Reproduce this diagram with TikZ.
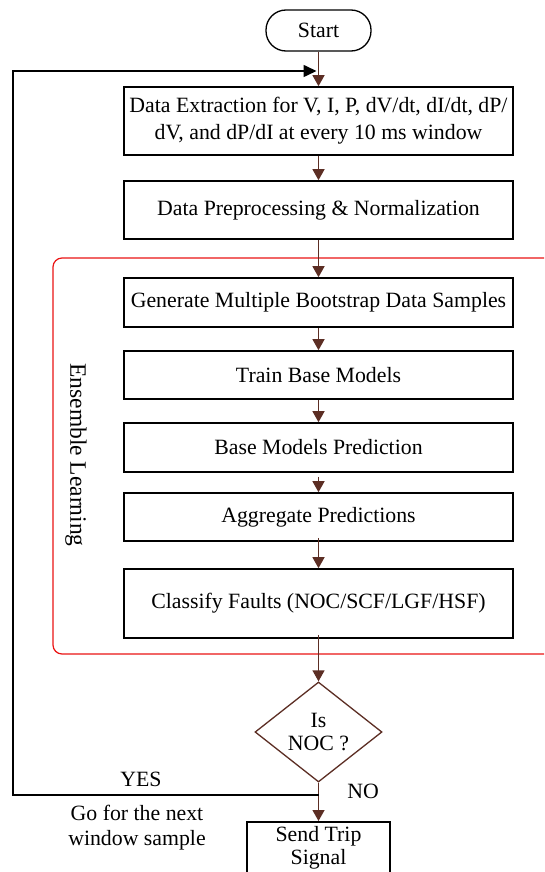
\documentclass[tikz,border=0pt]{standalone}
\usepackage{fontspec}
\setmainfont{Liberation Serif}
\usetikzlibrary{arrows.meta,shapes.geometric}
\definecolor{flowbrown}{RGB}{92,46,36}
\definecolor{grpred}{RGB}{235,20,20}
\tikzset{
  procbox/.style={draw=black, line width=1.6pt, fill=white, minimum width=389pt,
    align=center, font=\fontsize{21.8}{27}\selectfont, inner sep=0pt},
  flow/.style={draw=flowbrown, line width=1.3pt, -{Triangle[width=12pt,length=11pt]}},
  loopline/.style={draw=black, line width=1.6pt},
  lbl/.style={font=\fontsize{21.8}{25}\selectfont, align=center, inner sep=0pt},
}
\begin{document}
\begin{tikzpicture}[x=1pt,y=-1pt]
\useasboundingbox (0,0) rectangle (544,872);
\clip (0,0) rectangle (544,872);
\fill[white] (0,0) rectangle (544,872);

% ensemble learning group
\draw[grpred, line width=1.2pt, rounded corners=9pt] (53,258) rectangle (600,654);
\node[lbl, rotate=-90, font=\fontsize{23.5}{26}\selectfont] (ens) at (76,455) {Ensemble Learning};

% nodes
\node[draw=black, line width=1.3pt, rounded corners=20pt, minimum width=105pt, minimum height=41pt,
  font=\fontsize{21.8}{24}\selectfont, inner sep=0pt] (start) at (318.5,30.5) {Start};
\node[procbox, minimum height=68pt] (extract) at (318.5,121)
  {Data Extraction for V, I, P, dV/dt, dI/dt, dP/\\dV, and dP/dI at every 10 ms window};
\node[procbox, minimum height=58pt] (prep) at (318.5,210) {Data Preprocessing \& Normalization};
\node[procbox, minimum height=49pt] (boot) at (318.5,302.5) {Generate Multiple Bootstrap Data Samples};
\node[procbox, minimum height=48pt] (train) at (318.5,375) {Train Base Models};
\node[procbox, minimum height=49pt] (pred) at (318.5,447.5) {Base Models Prediction};
\node[procbox, minimum height=48pt] (aggr) at (318.5,517) {Aggregate Predictions};
\node[procbox, minimum height=69pt] (classify) at (318.5,603.5) {Classify Faults (NOC/SCF/LGF/HSF)};
\node[draw=flowbrown, line width=1.3pt, diamond, minimum width=127pt, minimum height=100pt,
  inner sep=0pt, align=center, font=\fontsize{21.8}{23}\selectfont] (noc) at (318.5,732) {Is\\NOC ?};
\node[procbox, minimum width=143pt, minimum height=64pt, anchor=north] (trip) at (318.5,821) {};
\node[lbl, font=\fontsize{21.8}{23}\selectfont] (triptext) at (318.5,848) {Send Trip\\Signal};

% connectors
\coordinate (loopin) at (318.5,71);
\coordinate (loopcorner) at (318.5,795);
\draw[flow] (start) -- (extract);
\draw[flow] (extract) -- (prep);
\draw[flow] (prep) -- (boot);
\draw[flow] (boot) -- (train);
\draw[flow] (train) -- (pred);
\draw[flow] ([yshift=-4pt]pred.south) -- (aggr);
\draw[flow] ([yshift=4pt]aggr.south) -- (classify);
\draw[flow] ([yshift=4pt]classify.south) -- (noc.north);
\draw[flow] (noc.south) -- (trip.north);
\draw[loopline, -{Triangle[width=12pt,length=13pt]}] (loopcorner) -- (13,795) -- (13,71) -- ([xshift=-2pt]loopin);

% labels
\node[lbl] (yes) at (141,779) {YES};
\node[lbl] (no) at (363,791) {NO};
\node[lbl] (next) at (137,828) {Go for the next\\window sample};
\end{tikzpicture}
\end{document}
